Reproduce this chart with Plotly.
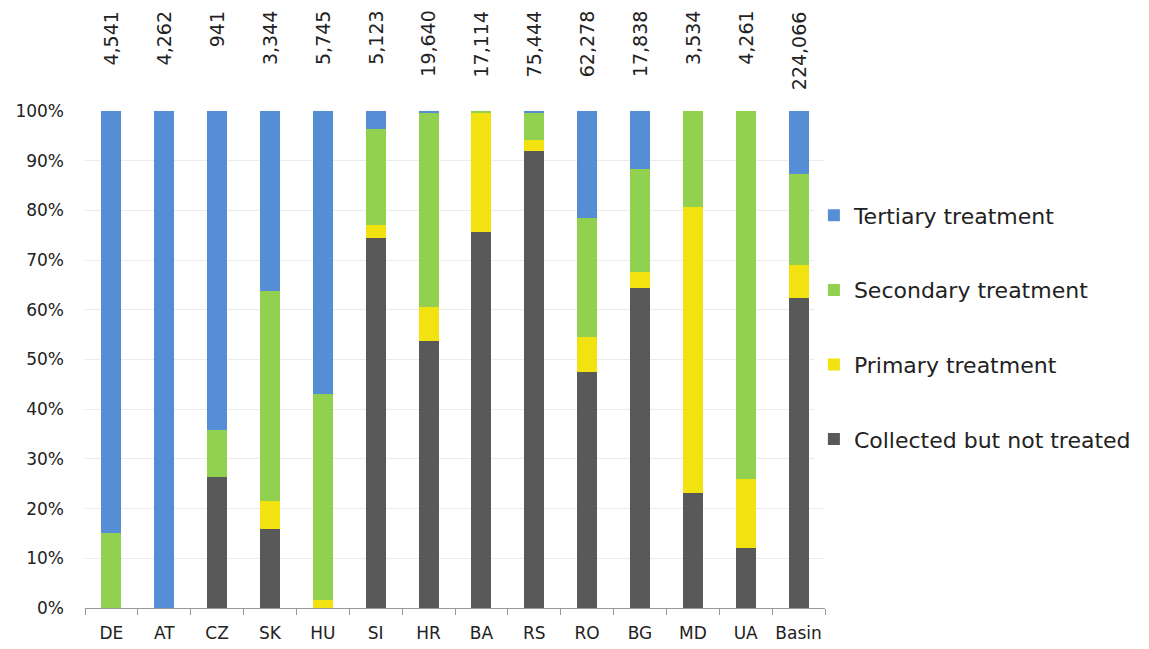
import plotly.graph_objects as go

categories = ["DE", "AT", "CZ", "SK", "HU", "SI", "HR", "BA", "RS", "RO", "BG", "MD", "UA", "Basin"]
totals = ["4,541", "4,262", "941", "3,344", "5,745", "5,123", "19,640", "17,114", "75,444", "62,278", "17,838", "3,534", "4,261", "224,066"]

# shares in percent
collected = [0, 0, 26.4, 15.9, 0, 74.4, 53.7, 75.6, 92.0, 47.5, 64.3, 23.1, 12.1, 62.4]
primary = [0, 0, 0, 5.6, 1.6, 2.7, 6.9, 24.1, 2.2, 7.0, 3.3, 57.5, 13.9, 6.6]
secondary = [15.0, 0, 9.4, 42.3, 41.5, 19.3, 39.1, 0.3, 5.5, 24.0, 20.7, 19.4, 74.0, 18.3]
tertiary = [85.0, 100, 64.2, 36.2, 56.9, 3.6, 0.3, 0, 0.3, 21.5, 11.7, 0, 0, 12.7]

series = [
    ("Collected but not treated", collected, "#595959"),
    ("Primary treatment", primary, "#f2e20f"),
    ("Secondary treatment", secondary, "#92d050"),
    ("Tertiary treatment", tertiary, "#558ed5"),
]

FONT = "DejaVu Sans, Verdana, sans-serif"

fig = go.Figure()
for i, (name, vals, col) in enumerate(series):
    fig.add_trace(go.Bar(
        x=categories, y=[v / 100 for v in vals], name=name,
        marker=dict(color=col, line=dict(width=0)),
        legendgroup="g" + str(len(series) - i),
        legendrank=len(series) - i,
    ))

for c, t in zip(categories, totals):
    fig.add_annotation(x=c, y=1.205, xref="x", yref="paper", text=t,
                       textangle=-90, yanchor="top", xanchor="center",
                       showarrow=False, font=dict(size=19, color="#222", family=FONT))

fig.update_layout(
    barmode="stack", bargap=0.62,
    width=1141, height=641,
    margin=dict(l=77, r=324, t=103, b=41),
    plot_bgcolor="white", paper_bgcolor="white",
    font=dict(family=FONT, color="#222"),
    legend=dict(x=0.985, xanchor="left", y=0.832, yanchor="top",
                traceorder="grouped", tracegroupgap=43,
                font=dict(size=22, color="#222", family=FONT), itemsizing="constant"),
)
fig.update_yaxes(range=[0, 1], dtick=0.1, tickformat=".0%", showgrid=True,
                 gridcolor="#ebebeb", gridwidth=1, zeroline=False,
                 tickfont=dict(size=17), ticks="", showline=False,
                 ticklabelstandoff=20, automargin=False)
fig.update_xaxes(showline=True, linecolor="#999", linewidth=1, ticks="outside",
                 tickson="boundaries", ticklen=6, tickcolor="#999",
                 tickfont=dict(size=17), showgrid=False, ticklabelstandoff=10,
                 tickangle=0, automargin=False)

fig.write_html("out.html")
